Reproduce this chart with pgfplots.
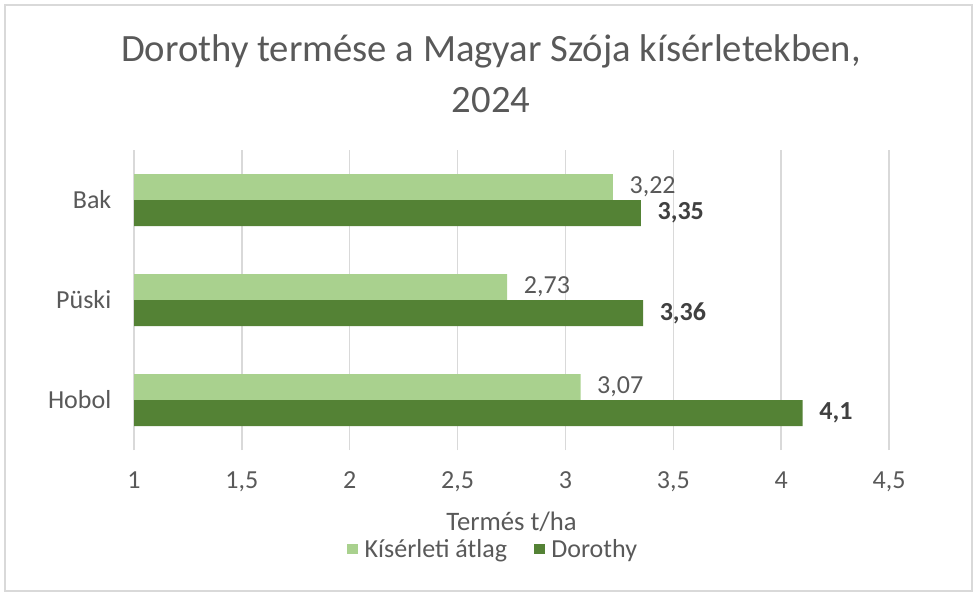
\documentclass[border=0pt]{standalone}
\usepackage{pgfplots}
\pgfplotsset{compat=1.18}
\usepackage{fontspec}
\setmainfont{Carlito}
\definecolor{lightg}{HTML}{A9D18E}
\definecolor{darkg}{HTML}{548235}
\definecolor{txt}{HTML}{595959}
\definecolor{gridc}{HTML}{D9D9D9}
\definecolor{lbl}{HTML}{404040}
\begin{document}
\begin{tikzpicture}[x=0.75pt,y=0.75pt]
\path (0,0) rectangle (978,601);
\draw[gridc, line width=1pt] (5,10) rectangle (972,596);
\node[txt, anchor=base, font=\fontsize{29}{29}\selectfont] at (491,539) {Dorothy termése a Magyar Szója kísérletekben,};
\node[txt, anchor=base, font=\fontsize{29}{29}\selectfont] at (491,488) {2024};
\begin{axis}[
  at={(100.5pt,113.25pt)}, anchor=south west,
  scale only axis, width=566.25pt, height=225pt,
  xmin=1, xmax=4.5, ymin=-0.5, ymax=2.5,
  xtick={1,1.5,2,2.5,3,3.5,4,4.5},
  xticklabels={1,{1,5},2,{2,5},3,{3,5},4,{4,5}},
  ytick={0,1,2}, yticklabels={Hobol,Püski,Bak},
  axis line style={draw=none},
  major tick length=0pt,
  xmajorgrids, major grid style={gridc, line width=1pt},
  ticklabel style={txt, font=\fontsize{19.5}{19.5}\selectfont},
  xticklabel style={yshift=-13pt},
  yticklabel style={xshift=-13.5pt},
  xlabel={Termés t/ha},
  xlabel style={at={(axis description cs:0.5,-0.24)}, anchor=center, txt, font=\fontsize{20}{20}\selectfont},
  legend style={at={(axis description cs:0.476,-0.33)}, anchor=center, draw=none, legend columns=2,
    font=\fontsize{19.5}{19.5}\selectfont, text=txt,
    /tikz/every odd column/.append style={column sep=3pt},
    /tikz/every even column/.append style={column sep=18pt}},
  legend image code/.code={\fill[#1] (0pt,-4.1pt) rectangle (8.25pt,4.1pt);},
  nodes near coords, point meta=explicit symbolic,
  every node near coord/.append style={anchor=west, xshift=9pt, font=\fontsize{19.5}{19.5}\selectfont},
]
\addplot[xbar, fill=lightg, draw=none, bar width=19.5pt, bar shift=9.75pt,
  every node near coord/.append style={txt, yshift=9.75pt}]
  coordinates {(3.07,0) [{3,07}] (2.73,1) [{2,73}] (3.22,2) [{3,22}]};
\addplot[xbar, fill=darkg, draw=none, bar width=19.5pt, bar shift=-9.75pt,
  every node near coord/.append style={lbl, yshift=-9.75pt, font=\fontsize{19.5}{19.5}\selectfont\bfseries}]
  coordinates {(4.1,0) [{4,1}] (3.36,1) [{3,36}] (3.35,2) [{3,35}]};
\legend{Kísérleti átlag, Dorothy}
\end{axis}
\end{tikzpicture}
\end{document}
